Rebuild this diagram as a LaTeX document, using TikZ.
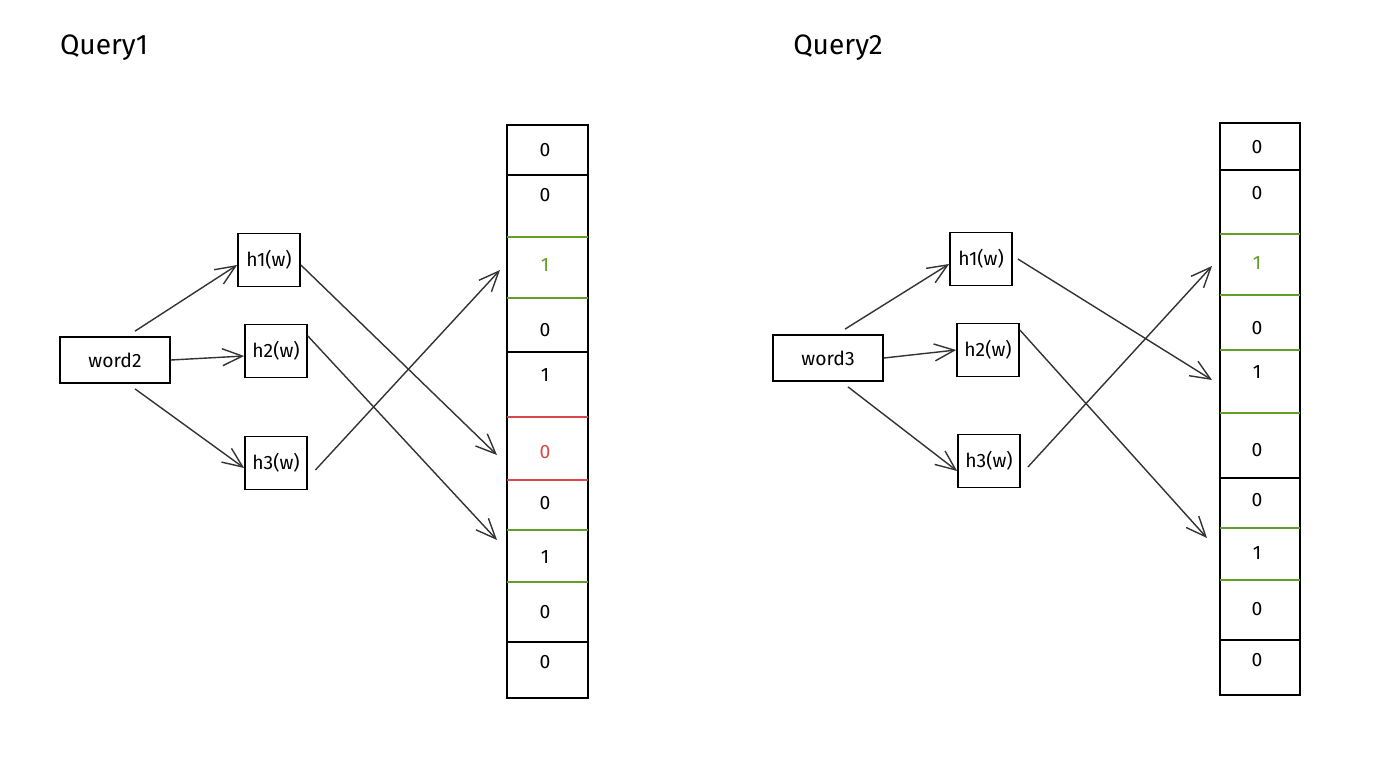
\documentclass[tikz,border=0pt]{standalone}
\usepackage{fontspec}
\setmainfont{Fira Sans}
\usetikzlibrary{arrows.meta}
\definecolor{bitgreen}{RGB}{96,160,40}
\definecolor{bitred}{RGB}{220,70,70}
\begin{document}
\begin{tikzpicture}[x=0.02cm,y=-0.02cm,
  title/.style={font=\fontsize{16}{18}\selectfont},
  wordbox/.style={draw,line width=1pt,minimum width=2.2cm,minimum height=0.92cm,inner sep=0pt,font=\fontsize{11}{13}\selectfont},
  hashbox/.style={draw,line width=1pt,minimum width=1.24cm,minimum height=1.06cm,inner sep=0pt,font=\fontsize{11}{13}\selectfont},
  cell/.style={inner sep=0pt,font=\fontsize{11}{13}\selectfont},
  link/.style={-{Straight Barb[length=4mm,width=3.4mm]},line width=0.8pt,black!80}]
                \useasboundingbox (0,0) rectangle (1375,768);
                % titles
                \node[title] (q1) at (104,48) {Query1};
                \node[title] (q2) at (838,48) {Query2};
                % query 1
                \node[wordbox] (w2) at (115,360) {word2};
                \node[hashbox] (h1a) at (269,260) {h1(w)};
                \node[hashbox] (h2a) at (276,351) {h2(w)};
                \node[hashbox] (h3a) at (276,463) {h3(w)};
                \draw[line width=1pt] (507,125) rectangle (588,698);
                \foreach \y/\c in {175/black,237/bitgreen,298/bitgreen,352/black,417/bitred,480/bitred,530/bitgreen,582/bitgreen,642/black}{
                    \draw[line width=1pt,\c] (507,\y) -- (588,\y);
                }
                \foreach \v/\y/\c [count=\i] in {0/150/black,0/195/black,1/265/bitgreen,0/330/black,1/375/black,0/452/bitred,0/503/black,1/557/black,0/612/black,0/662/black}{
                    \node[cell,text=\c] (a\i) at (545,\y) {\v};
                }
                \coordinate (ta1) at (497,455);
                \coordinate (ta2) at (497,540);
                \coordinate (ta3) at (500,270);
                \draw[link] ([xshift=4mm,yshift=1mm]w2.north) -- ([yshift=-1mm]h1a.west);
                \draw[link] (w2.east) -- ([yshift=-1mm]h2a.west);
                \draw[link] ([xshift=4mm,yshift=-1mm]w2.south) -- ([yshift=-1mm]h3a.west);
                \draw[link] ([yshift=-1mm]h1a.east) -- (ta1);
                \draw[link] ([yshift=3mm]h2a.east) -- (ta2);
                \draw[link] ([xshift=1.5mm,yshift=-1.4mm]h3a.east) -- (ta3);
                % query 2
                \node[wordbox] (w3) at (828,358) {word3};
                \node[hashbox] (h1b) at (981,259) {h1(w)};
                \node[hashbox] (h2b) at (988,350) {h2(w)};
                \node[hashbox] (h3b) at (989,461) {h3(w)};
                \draw[line width=1pt] (1220,123) rectangle (1300,695);
                \foreach \y/\c in {170/black,234/bitgreen,295/bitgreen,350/bitgreen,413/bitgreen,478/black,528/bitgreen,580/bitgreen,640/black}{
                    \draw[line width=1pt,\c] (1220,\y) -- (1300,\y);
                }
                \foreach \v/\y/\c [count=\i] in {0/147/black,0/193/black,1/263/bitgreen,0/328/black,1/372/black,0/450/black,0/500/black,1/553/black,0/609/black,0/660/black}{
                    \node[cell,text=\c] (b\i) at (1257,\y) {\v};
                }
                \coordinate (tb1) at (1212,380);
                \coordinate (tb2) at (1207,538);
                \coordinate (tb3) at (1212,266);
                \draw[link] ([xshift=3.4mm,yshift=1mm]w3.north) -- ([yshift=-1mm]h1b.west);
                \draw[link] (w3.east) -- (h2b.west);
                \draw[link] ([xshift=4mm,yshift=-1mm]w3.south) -- ([yshift=-2mm]h3b.west);
                \draw[link] ([xshift=1mm]h1b.east) -- (tb1);
                \draw[link] ([yshift=4mm]h2b.east) -- (tb2);
                \draw[link] ([xshift=1.4mm,yshift=-1.2mm]h3b.east) -- (tb3);
            \end{tikzpicture}
\end{document}
